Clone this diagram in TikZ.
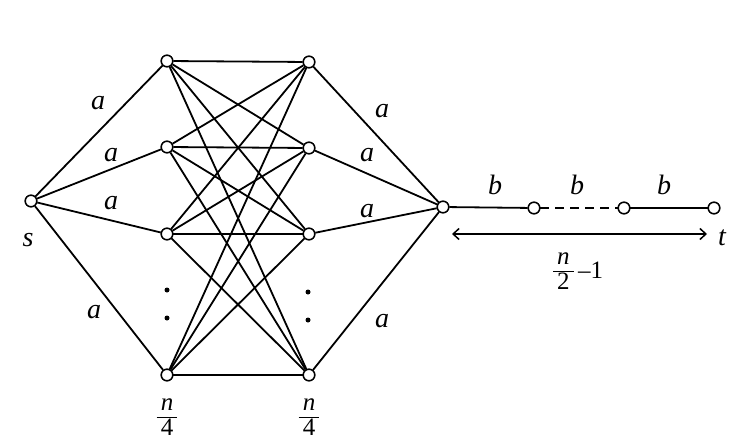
\documentclass[tikz,border=0pt]{standalone}
\usepackage{fontspec}
\setmainfont{Liberation Serif}
\usetikzlibrary{arrows.meta}
\newcommand{\myfrac}[2]{{\setlength{\arrayrulewidth}{1.3pt}\renewcommand{\arraystretch}{0.85}\begin{tabular}{@{\,}c@{\,}}\textit{#1}\\[-1pt]\hline #2\end{tabular}}}
\begin{document}
\begin{tikzpicture}[x=1pt,y=-1pt,
  vtx/.style={circle,draw,fill=white,inner sep=0pt,minimum size=11.5pt,line width=1.4pt},
  edge/.style={line width=1.8pt},
  lbl/.style={font=\fontsize{28}{32}\selectfont\itshape,inner sep=0pt},
  frc/.style={font=\fontsize{25}{29}\selectfont,inner sep=0pt},
  dot/.style={circle,fill=black,inner sep=0pt,minimum size=5pt}]
\useasboundingbox (0,0) rectangle (731,444);
% nodes
\node[vtx] (s) at (31,201) {};
\node[vtx] (L1) at (167,61) {};
\node[vtx] (L2) at (167,147) {};
\node[vtx] (L3) at (167,234) {};
\node[vtx] (L4) at (167,375) {};
\node[vtx] (R1) at (309,62) {};
\node[vtx] (R2) at (309,148) {};
\node[vtx] (R3) at (309,234) {};
\node[vtx] (R4) at (309,375) {};
\node[vtx] (c) at (443,207) {};
\node[vtx] (p1) at (534,208) {};
\node[vtx] (p2) at (624,208) {};
\node[vtx] (t) at (714,208) {};
% edges
\foreach \l in {L1,L2,L3,L4}{
  \draw[edge] (s) -- (\l);
  \foreach \r in {R1,R2,R3,R4}{ \draw[edge] (\l) -- (\r); }
}
\foreach \r in {R1,R2,R3,R4}{ \draw[edge] (\r) -- (c); }
\draw[edge] (c) -- (p1);
\draw[edge,dash pattern=on 9pt off 6pt] (p1) -- (p2);
\draw[edge] (p2) -- (t);
% redraw vertices on top
\foreach \v in {s,L1,L2,L3,L4,R1,R2,R3,R4,c,p1,p2,t}{ \node[vtx] at (\v) {}; }
% dots
\node[dot] (d1) at (167,290) {};
\node[dot] (d2) at (167,318) {};
\node[dot] (d3) at (308,292) {};
\node[dot] (d4) at (308,320) {};
% arrow
\coordinate (aL) at (452,234);
\coordinate (aR) at (707,234);
\draw[line width=1.5pt,{Straight Barb[length=6pt,width=11pt]}-{Straight Barb[length=6pt,width=11pt]}] (aL) -- (aR);
% labels
\node[lbl] (la1) at (98,103) {a};
\node[lbl] (la2) at (111,155) {a};
\node[lbl] (la3) at (111,203) {a};
\node[lbl] (la4) at (94,312) {a};
\node[lbl] (ra1) at (382,111) {a};
\node[lbl] (ra2) at (367,155) {a};
\node[lbl] (ra3) at (367,211) {a};
\node[lbl] (ra4) at (382,321) {a};
\node[lbl] (ls) at (28,240) {s};
\node[lbl] (b1) at (495,185) {b};
\node[lbl] (b2) at (577,185) {b};
\node[lbl] (b3) at (664,185) {b};
\node[lbl] (lt) at (722,238) {t};
\node[frc] (nL) at (167,418) {\myfrac{n}{4}};
\node[frc] (nR) at (309,418) {\myfrac{n}{4}};
\node[frc] (len) at (578,272) {\myfrac{n}{2}\,–1};
\end{tikzpicture}
\end{document}
